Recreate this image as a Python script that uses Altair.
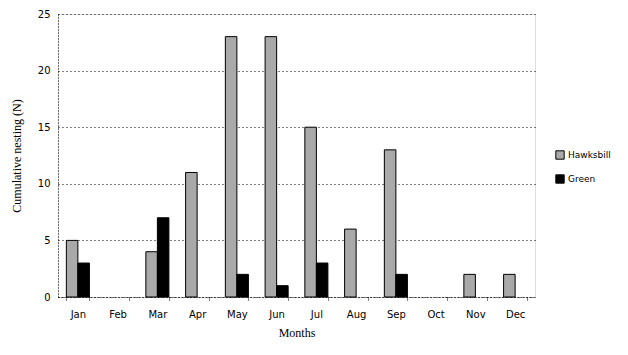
import altair as alt
import pandas as pd

months = ["Jan", "Feb", "Mar", "Apr", "May", "Jun", "Jul", "Aug", "Sep", "Oct", "Nov", "Dec"]
hawksbill = [5, 0, 4, 11, 23, 23, 15, 6, 13, 0, 2, 2]
green = [3, 0, 7, 0, 2, 1, 3, 0, 2, 0, 0, 0]
species = ["Hawksbill", "Green"]

rows = []
for m, h, g in zip(months, hawksbill, green):
    rows.append({"Month": m, "Species": "Hawksbill", "Count": h})
    rows.append({"Month": m, "Species": "Green", "Count": g})
df = pd.DataFrame(rows)

bars = alt.Chart(df).mark_bar(stroke="black", strokeWidth=1).encode(
    x=alt.X("Month:N", sort=months,
            scale=alt.Scale(domain=months, paddingInner=0.42, paddingOuter=0.21),
            axis=alt.Axis(title="Months", labelAngle=0, labelFont="DejaVu Sans", labelFontSize=10,
                          labelColor="black", titleFont="Liberation Serif", titleFontSize=12,
                          titleFontWeight="normal", titleColor="black", titlePadding=8,
                          domainColor="black", domainDash=[1, 2], tickColor="black", tickDash=[1, 1],
                          tickBand="extent", tickSize=4, labelPadding=8)),
    xOffset=alt.XOffset("Species:N", sort=species, scale=alt.Scale(domain=species)),
    y=alt.Y("Count:Q", scale=alt.Scale(domain=[0, 25]),
            axis=alt.Axis(title="Cumulative nesting (N)", values=[0, 5, 10, 15, 20, 25],
                          labelFont="DejaVu Sans", labelFontSize=10, labelColor="black",
                          titleFont="Liberation Serif", titleFontSize=12, titleFontWeight="normal",
                          titleColor="black", titlePadding=14, domainColor="black", domainDash=[1, 2],
                          ticks=False, labelPadding=8, gridColor="black", gridDash=[1, 3],
                          gridOpacity=1)),
    color=alt.Color("Species:N", sort=species,
                    scale=alt.Scale(domain=species, range=["#a9a9a9", "#000000"]),
                    legend=alt.Legend(title=None, orient="none", legendX=497, legendY=136,
                                      symbolType="square", symbolSize=70, symbolStrokeColor="black",
                                      symbolStrokeWidth=1, labelFont="DejaVu Sans", labelFontSize=9,
                                      labelColor="black", rowPadding=10, labelOffset=3)),
).transform_filter("datum.Count > 0")

chart = bars.properties(
    width=477, height=283,
    padding={"left": 58, "top": 14, "right": 93, "bottom": 58},
    autosize=alt.AutoSizeParams(type="none"),
).configure_view(stroke=None).configure(background="white")

chart.save("out.html", embed_options={"renderer": "svg", "actions": False})
